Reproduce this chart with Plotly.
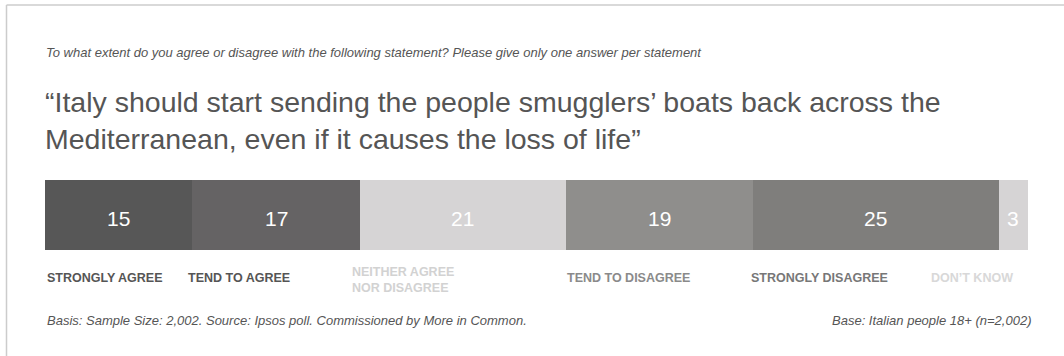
import plotly.graph_objects as go
import numpy as np

# ---- data ----
categories = ["STRONGLY AGREE", "TEND TO AGREE", "NEITHER AGREE<br>NOR DISAGREE",
              "TEND TO DISAGREE", "STRONGLY DISAGREE", "DON\u2019T KNOW"]
values = [15, 17, 21, 19, 25, 3]
row_label = ["Italy"]

subtitle = "To what extent do you agree or disagree with the following statement? Please give only one answer per statement"
title = ("\u201cItaly should start sending the people smugglers\u2019 boats back across the<br>"
         "Mediterranean, even if it causes the loss of life\u201d")
footer_left = "Basis: Sample Size: 2,002. Source: Ipsos poll. Commissioned by More in Common."
footer_right = "Base: Italian people 18+ (n=2,002)"

# ---- styles ----
bar_colors = ["#575757", "#656364", "#d6d4d5", "#8f8e8c", "#7f7e7c", "#d6d4d5"]
label_colors = ["#555555", "#555555", "#d2d2d2", "#8a8a8a", "#777777", "#d8d8d8"]
label_xshift = [0, -6, -10, -1, -4, -70]
label_yshift = [0, 0, -2, 0, 0, 0]

W, H = 1064, 356
L, R, T, B = 45, 36, 180, 106
pw, ph = W - L - R, H - T - B

def px(x):
    return (x - L) / pw

def py(y):
    return (H - B - y) / ph

FONT = "Liberation Sans, Arial, Helvetica, sans-serif"

fig = go.Figure()
for cat, v, c in zip(categories, values, bar_colors):
    fig.add_trace(go.Bar(
        x=[v], y=row_label, orientation="h", name=cat,
        marker=dict(color=c, line=dict(width=0)),
        hoverinfo="skip", width=1,
    ))

annotations = []
cum = np.cumsum(values)
starts = np.concatenate([[0], cum[:-1]])

# value labels inside each segment
for s, v in zip(starts, values):
    annotations.append(dict(
        x=float(s + v / 2), xref="x", y=row_label[0], yref="y",
        text=str(v), showarrow=False, xanchor="center", yanchor="middle",
        yshift=-3,
        font=dict(size=21, color="white", family=FONT),
    ))

# category labels under the bar
for cat, s, col, dx, dy in zip(categories, starts, label_colors, label_xshift, label_yshift):
    annotations.append(dict(
        x=float(s), xref="x", y=py(278), yref="paper",
        text="<b>" + cat + "</b>", showarrow=False,
        xanchor="left", yanchor="middle", align="left",
        xshift=dx, yshift=dy,
        font=dict(size=12.5, color=col, family=FONT),
    ))

annotations += [
    dict(x=px(44), y=py(52), xref="paper", yref="paper", text="<i>" + subtitle + "</i>",
         showarrow=False, xanchor="left", yanchor="middle",
         font=dict(size=13, color="#555555", family=FONT)),
    dict(x=px(43), y=py(120), xref="paper", yref="paper", text=title,
         showarrow=False, xanchor="left", yanchor="middle", align="left",
         font=dict(size=28.5, color="#555555", family=FONT)),
    dict(x=px(45), y=py(320), xref="paper", yref="paper", text="<i>" + footer_left + "</i>",
         showarrow=False, xanchor="left", yanchor="middle",
         font=dict(size=13, color="#555555", family=FONT)),
    dict(x=px(1033), y=py(320), xref="paper", yref="paper", text="<i>" + footer_right + "</i>",
         showarrow=False, xanchor="right", yanchor="middle",
         font=dict(size=13, color="#555555", family=FONT)),
]

shapes = [
    dict(type="line", xref="paper", yref="paper", x0=px(6.5), x1=px(1070), y0=py(5), y1=py(5),
         line=dict(color="#cccccc", width=1.5)),
    dict(type="line", xref="paper", yref="paper", x0=px(6.5), x1=px(6.5), y0=py(5), y1=py(360),
         line=dict(color="#cccccc", width=1.5)),
]

fig.update_layout(
    width=W, height=H,
    margin=dict(l=L, r=R, t=T, b=B, pad=0),
    barmode="stack", bargap=0,
    showlegend=False,
    paper_bgcolor="white", plot_bgcolor="white",
    xaxis=dict(range=[0, float(cum[-1])], visible=False, fixedrange=True),
    yaxis=dict(range=[-0.5, 0.5], visible=False, fixedrange=True),
    annotations=annotations, shapes=shapes,
)

fig.write_html("out.html", config={"displayModeBar": False})

# remove default browser body margin so the figure sits at the page origin
with open("out.html", "r", encoding="utf-8") as f:
    html = f.read()
html = html.replace("<head>", "<head><style>html,body{margin:0;padding:0;overflow:hidden;}</style>", 1)
with open("out.html", "w", encoding="utf-8") as f:
    f.write(html)
